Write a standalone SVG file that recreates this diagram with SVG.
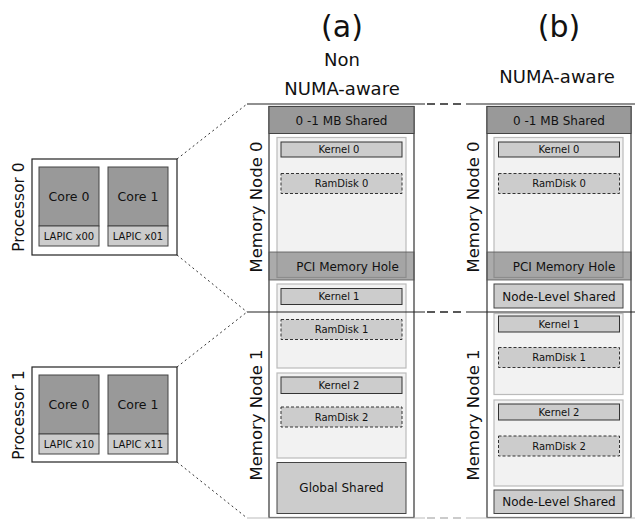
<svg xmlns="http://www.w3.org/2000/svg" width="635" height="519" viewBox="0 0 635 519">
<style>
text{font-family:"DejaVu Sans",sans-serif;fill:#111}
.proc{fill:#fff;stroke:#222;stroke-width:1.2}
.core{fill:#999;stroke:#444;stroke-width:1}
.lapic{fill:#ccc;stroke:#444;stroke-width:1}
.outer{fill:#fff;stroke:#333;stroke-width:1.2}
.hdr{fill:#999;stroke:#444;stroke-width:1}
.panel{fill:#f2f2f2;stroke:#bbb;stroke-width:1.2}
.kern{fill:#ccc;stroke:#333;stroke-width:1}
.rd{fill:#ccc;stroke:#333;stroke-width:1;stroke-dasharray:3,2}
.shared{fill:#ccc;stroke:#444;stroke-width:1}
.hole{fill:#666;fill-opacity:0.55;stroke:#555;stroke-width:0.8}
.dot{stroke:#333;stroke-width:1;stroke-dasharray:2,3;fill:none}
.sol{stroke:#222;stroke-width:1.2;fill:none}
.dsh{stroke:#222;stroke-width:1.6;stroke-dasharray:8,5;fill:none}
.c13{font-size:12.5px;text-anchor:middle}
.c10{font-size:10px;text-anchor:middle}
.c12{font-size:12px;text-anchor:middle}
.vlab{font-size:15.5px;text-anchor:middle}
.mlab{font-size:16.5px;text-anchor:middle}
</style>

<g id="titles">
<text x="342" y="37" font-size="30" text-anchor="middle">(a)</text>
<text x="342" y="66" font-size="18" text-anchor="middle">Non</text>
<text x="342" y="95" font-size="18" text-anchor="middle">NUMA-aware</text>
<text x="559" y="37" font-size="30" text-anchor="middle">(b)</text>
<text x="557" y="83" font-size="18" text-anchor="middle">NUMA-aware</text>
</g>

<g id="processor0">
<rect class="proc" x="32" y="159" width="145" height="96"/>
<rect class="core" x="39" y="167" width="60" height="59"/>
<rect class="lapic" x="39" y="226" width="60" height="20"/>
<rect class="core" x="108" y="167" width="60" height="59"/>
<rect class="lapic" x="108" y="226" width="60" height="20"/>
<text class="c13" x="69" y="201">Core 0</text>
<text class="c13" x="138" y="201">Core 1</text>
<text class="c10" x="69" y="240">LAPIC x00</text>
<text class="c10" x="138" y="240">LAPIC x01</text>
<text class="vlab" transform="translate(24,207) rotate(-90)">Processor 0</text>
</g>

<g id="processor1">
<rect class="proc" x="32" y="367" width="145" height="95"/>
<rect class="core" x="39" y="375" width="60" height="59"/>
<rect class="lapic" x="39" y="434" width="60" height="20"/>
<rect class="core" x="108" y="375" width="60" height="59"/>
<rect class="lapic" x="108" y="434" width="60" height="20"/>
<text class="c13" x="69" y="409">Core 0</text>
<text class="c13" x="138" y="409">Core 1</text>
<text class="c10" x="69" y="448">LAPIC x10</text>
<text class="c10" x="138" y="448">LAPIC x11</text>
<text class="vlab" transform="translate(24,415) rotate(-90)">Processor 1</text>
</g>

<g id="columnA">
<rect class="outer" x="269" y="106.5" width="145" height="411"/>
<rect class="hdr" x="269" y="106.5" width="145" height="27"/>
<text class="c12" x="341.5" y="125">0 -1 MB Shared</text>
<rect class="panel" x="277" y="137.5" width="129" height="140"/>
<rect class="kern" x="281" y="142" width="121" height="15"/>
<text class="c10" x="339" y="153">Kernel 0</text>
<rect class="rd" x="281" y="173.5" width="121" height="20"/>
<text class="c10" x="341.5" y="187">RamDisk 0</text>
<rect class="panel" x="277" y="284" width="129" height="84"/>
<rect class="kern" x="281" y="288.5" width="121" height="16"/>
<text class="c10" x="339" y="300">Kernel 1</text>
<rect class="rd" x="281" y="319.5" width="121" height="20"/>
<text class="c10" x="341.5" y="333">RamDisk 1</text>
<rect class="panel" x="277" y="373" width="129" height="85"/>
<rect class="kern" x="281" y="377" width="121" height="16.5"/>
<text class="c10" x="339" y="389">Kernel 2</text>
<rect class="rd" x="281" y="407" width="121" height="20"/>
<text class="c10" x="341.5" y="421">RamDisk 2</text>
<rect class="shared" x="277" y="462.5" width="129" height="51"/>
<text class="c12" x="341.5" y="492">Global Shared</text>
<rect class="hole" x="269" y="252" width="145" height="28"/>
<text class="c12" x="347.5" y="270.5">PCI Memory Hole</text>
<text class="mlab" transform="translate(262,207) rotate(-90)">Memory Node 0</text>
<text class="mlab" transform="translate(262,415) rotate(-90)">Memory Node 1</text>
</g>

<g id="columnB">
<rect class="outer" x="487" y="106.5" width="144" height="411"/>
<rect class="hdr" x="487" y="106.5" width="144" height="27"/>
<text class="c12" x="559" y="125">0 -1 MB Shared</text>
<rect class="panel" x="494" y="137.5" width="129" height="140"/>
<rect class="kern" x="498.5" y="142" width="121" height="15"/>
<text class="c10" x="559" y="153">Kernel 0</text>
<rect class="rd" x="498.5" y="173.5" width="121" height="20"/>
<text class="c10" x="559" y="187">RamDisk 0</text>
<rect class="hole" x="487" y="252" width="144" height="28"/>
<text class="c12" x="564" y="270.5">PCI Memory Hole</text>
<rect class="shared" x="494" y="284" width="129" height="24"/>
<text class="c12" x="559" y="300.5">Node-Level Shared</text>
<rect class="panel" x="494" y="313.5" width="129" height="81"/>
<rect class="kern" x="498.5" y="316" width="121" height="16"/>
<text class="c10" x="559" y="327.5">Kernel 1</text>
<rect class="rd" x="498.5" y="347.5" width="121" height="20"/>
<text class="c10" x="559" y="361">RamDisk 1</text>
<rect class="panel" x="494" y="400" width="129" height="86"/>
<rect class="kern" x="498.5" y="404" width="121" height="16"/>
<text class="c10" x="559" y="415.5">Kernel 2</text>
<rect class="rd" x="498.5" y="436" width="121" height="20"/>
<text class="c10" x="559" y="450">RamDisk 2</text>
<rect class="shared" x="494" y="490" width="129" height="23.5"/>
<text class="c12" x="559" y="506">Node-Level Shared</text>
<text class="mlab" transform="translate(479,207) rotate(-90)">Memory Node 0</text>
<text class="mlab" transform="translate(479,415) rotate(-90)">Memory Node 1</text>
</g>

<g id="connectors">
<line class="dot" x1="177" y1="159" x2="247" y2="104"/>
<line class="dot" x1="177" y1="255" x2="247" y2="312"/>
<line class="dot" x1="177" y1="367" x2="247" y2="312"/>
<line class="dot" x1="177" y1="462" x2="247" y2="518"/>
<line class="sol" x1="247" y1="104" x2="425" y2="104"/>
<line class="dsh" x1="427" y1="104" x2="466" y2="104"/>
<line class="sol" x1="466" y1="104" x2="635" y2="104"/>
<line class="sol" x1="247" y1="312" x2="425" y2="312"/>
<line class="dsh" x1="427" y1="312" x2="466" y2="312"/>
<line class="sol" x1="466" y1="312" x2="635" y2="312"/>
<line x1="247" y1="518" x2="425" y2="518" stroke="#bbb" stroke-width="1"/>
<line x1="427" y1="518" x2="466" y2="518" stroke="#bbb" stroke-width="1.4" stroke-dasharray="8,5"/>
<line x1="466" y1="518" x2="635" y2="518" stroke="#bbb" stroke-width="1"/>
</g>
</svg>
